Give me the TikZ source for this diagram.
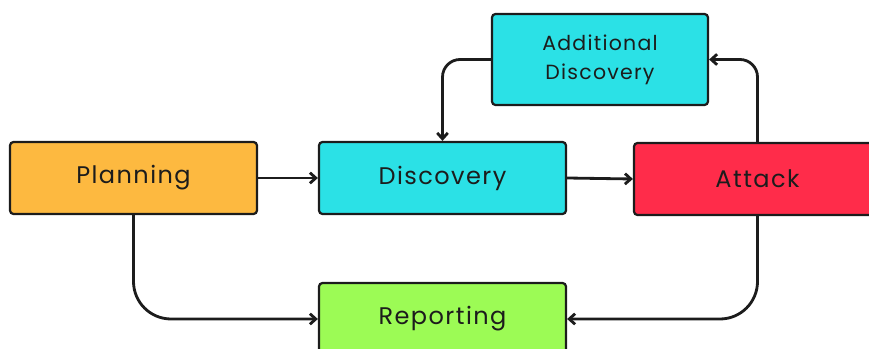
\documentclass[tikz,border=0pt]{standalone}
\usepackage{fontspec}
\setmainfont{Poppins}
\usetikzlibrary{arrows.meta}
\definecolor{planorange}{HTML}{FDB940}
\definecolor{disccyan}{HTML}{2BE1E6}
\definecolor{attackred}{HTML}{FF2C4A}
\definecolor{reportgreen}{HTML}{9CFB55}
\definecolor{inkdark}{HTML}{1C1C1C}
\begin{document}
\begin{tikzpicture}[x=0.03cm,y=-0.03cm,
  box/.style={draw=inkdark,line width=1.9pt,rounded corners=3pt,minimum width=7.41cm,minimum height=2.16cm,text=inkdark,font=\fontsize{20.5}{24}\selectfont\addfontfeature{LetterSpace=6}},
  arr/.style={draw=inkdark,line width=2.4pt,-{Straight Barb[length=5pt,width=9pt]}}]
\useasboundingbox (0,0) rectangle (869,349);
\clip (0,0) rectangle (869,349);

\node[box,fill=planorange] (plan) at (133.5,178) {Planning};
\node[box,fill=disccyan] (disc) at (442.5,178) {Discovery};
\node[box,fill=attackred] (attack) at (757.5,179) {Attack};
\node[box,fill=reportgreen] (report) at (442.5,319) {Reporting};
\node[box,fill=disccyan,minimum width=6.48cm,minimum height=2.73cm,align=center,font=\fontsize{17.5}{25}\selectfont\addfontfeature{LetterSpace=6}] (addisc) at (600,59.5) {Additional\\Discovery};

\draw[arr] (plan) -- (disc);
\draw[arr] (disc.east) -- (attack.west);
\draw[arr,rounded corners=15] (attack.north) |- (addisc.east);
\draw[arr,rounded corners=15] (addisc.west) -| (disc.north);
\draw[arr,rounded corners=32] (plan.south) |- (report.west);
\draw[arr,rounded corners=32] (attack.south) |- (report.east);
\end{tikzpicture}
\end{document}
